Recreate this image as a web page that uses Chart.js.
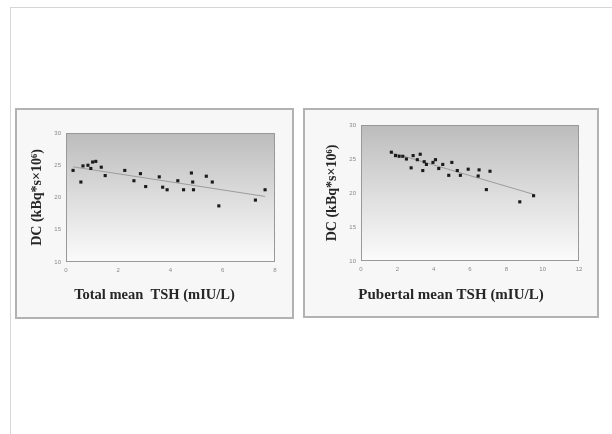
<!DOCTYPE html>
<html>
<head>
<meta charset="utf-8">
<script src="https://cdn.jsdelivr.net/npm/chart.js@4"></script>
<style>
  html, body { margin: 0; padding: 0; background: #fff; width: 612px; height: 434px; overflow: hidden; }
  .frame { position: absolute; left: 10px; top: 7px; width: 602px; height: 427px;
           border-left: 1px solid #d6d6d6; border-top: 1px solid #d6d6d6; }
  .panel { position: absolute; background: #f7f7f7; border: 2px solid #b2b2b2; }
  #p1 { left: 15px; top: 108px; width: 275px; height: 207px; }
  #p2 { left: 303px; top: 108px; width: 292px; height: 206px; }
  canvas { display: block; }
</style>
</head>
<body>
<div class="frame"></div>
<div class="panel" id="p1"><canvas id="c1" width="275" height="207"></canvas></div>
<div class="panel" id="p2"><canvas id="c2" width="292" height="206"></canvas></div>
<script>
// Total mean TSH vs DC
const totalTSH = [0.27, 0.57, 0.65, 0.84, 0.95, 1.02, 1.14, 1.35, 1.5, 2.25, 2.6, 2.85, 3.05, 3.57, 3.7, 3.87,
                  4.28, 4.5, 4.8, 4.85, 4.88, 5.37, 5.6, 5.85, 7.25, 7.62];
const totalDC  = [24.2, 22.4, 24.9, 25.0, 24.5, 25.5, 25.6, 24.7, 23.4, 24.2, 22.6, 23.7, 21.7, 23.2, 21.6, 21.2,
                  22.6, 21.2, 23.8, 22.4, 21.2, 23.3, 22.4, 18.7, 19.6, 21.2];

// Pubertal mean TSH vs DC
const pubertalTSH = [1.67, 1.9, 2.1, 2.3, 2.5, 2.76, 2.87, 3.1, 3.26, 3.4, 3.48, 3.6, 3.96, 4.1, 4.28, 4.5,
                     4.83, 5.0, 5.3, 5.47, 5.9, 6.45, 6.5, 6.9, 7.1, 8.74, 9.5];
const pubertalDC  = [26.0, 25.5, 25.4, 25.4, 25.0, 23.7, 25.5, 24.9, 25.7, 23.3, 24.6, 24.2, 24.5, 24.9, 23.6, 24.2,
                     22.6, 24.5, 23.3, 22.6, 23.5, 22.5, 23.4, 20.5, 23.2, 18.7, 19.6];

const yTicks = [10, 15, 20, 25, 30];
const yTitle = 'DC (kBq*s×10⁶)';
const xTitleTotal = 'Total mean  TSH (mIU/L)';
const xTitlePubertal = 'Pubertal mean TSH (mIU/L)';

// least-squares line through the points, spanning the observed x range
function fitLine(xs, ys) {
  const n = xs.length;
  const mx = xs.reduce((a, b) => a + b, 0) / n;
  const my = ys.reduce((a, b) => a + b, 0) / n;
  let sxy = 0, sxx = 0;
  for (let i = 0; i < n; i++) { sxy += (xs[i] - mx) * (ys[i] - my); sxx += (xs[i] - mx) ** 2; }
  const b = sxy / sxx, a = my - b * mx;
  const x0 = Math.min(...xs), x1 = Math.max(...xs);
  return [{x: x0, y: a + b * x0}, {x: x1, y: a + b * x1}];
}

// shaded plot background with a thin frame
const plotBackground = {
  id: 'plotBackground',
  beforeDatasetsDraw(chart) {
    const {ctx, chartArea: {left, top, right, bottom}} = chart;
    const g = ctx.createLinearGradient(0, top, 0, bottom);
    g.addColorStop(0, '#bcbcbc');
    g.addColorStop(0.55, '#e0e0e0');
    g.addColorStop(1, '#fbfbfb');
    ctx.save();
    ctx.fillStyle = g;
    ctx.fillRect(left, top, right - left, bottom - top);
    ctx.strokeStyle = '#999';
    ctx.lineWidth = 1;
    ctx.strokeRect(left + 0.5, top + 0.5, right - left - 1, bottom - top - 1);
    ctx.restore();
  }
};

// x-axis caption centred on the whole panel
const panelCaption = {
  id: 'panelCaption',
  afterDraw(chart, args, opts) {
    const {ctx, width} = chart;
    ctx.save();
    ctx.font = 'bold ' + opts.size + 'px "Liberation Serif", serif';
    ctx.fillStyle = '#262626';
    ctx.textAlign = 'center';
    ctx.textBaseline = 'middle';
    ctx.fillText(opts.text, width / 2, opts.y);
    ctx.restore();
  }
};

function makeChart(id, xs, ys, xMax, cfg) {
  return new Chart(document.getElementById(id), {
    type: 'scatter',
    data: {
      datasets: [
        { data: xs.map((x, i) => ({x, y: ys[i]})), pointStyle: 'rect', pointRadius: 2.2,
          backgroundColor: '#1a1a1a', borderColor: '#1a1a1a', borderWidth: 0, order: 1 },
        { type: 'line', data: fitLine(xs, ys), borderColor: '#9c9c9c', borderWidth: 1,
          pointRadius: 0, fill: false, order: 2 }
      ]
    },
    options: {
      responsive: false, animation: false, events: [],
      layout: { padding: { left: 0, top: cfg.top, right: cfg.right, bottom: 0 } },
      plugins: { legend: { display: false }, tooltip: { enabled: false },
                 panelCaption: { text: cfg.caption, y: cfg.captionY, size: cfg.capSize } },
      scales: {
        x: {
          type: 'linear', min: 0, max: xMax,
          grid: { display: false, drawTicks: false }, border: { display: false },
          ticks: { stepSize: 2, padding: 5, color: '#8a8a8a', font: { size: 6, family: 'Liberation Sans' } },
          afterFit(s) { s.height = cfg.xh; }
        },
        y: {
          min: 10, max: 30,
          afterBuildTicks(s) { s.ticks = yTicks.map(v => ({value: v})); },
          grid: { display: false, drawTicks: false }, border: { display: false },
          ticks: { padding: 5, color: '#8a8a8a', font: { size: 6, family: 'Liberation Sans' } },
          title: { display: true, text: yTitle, color: '#262626', padding: { top: cfg.ytp, bottom: 0 },
                   font: { size: 14, weight: 'bold', family: 'Liberation Serif' } },
          afterFit(s) { s.width = cfg.yw; }
        }
      }
    },
    plugins: [plotBackground, panelCaption]
  });
}

makeChart('c1', totalTSH, totalDC, 8,
  { top: 23, right: 17, xh: 55, yw: 49, ytp: 12, caption: xTitleTotal, captionY: 185, capSize: 14.5 });
makeChart('c2', pubertalTSH, pubertalDC, 12,
  { top: 15, right: 18, xh: 55, yw: 56, ytp: 19, caption: xTitlePubertal, captionY: 185, capSize: 15 });
</script>
</body>
</html>
